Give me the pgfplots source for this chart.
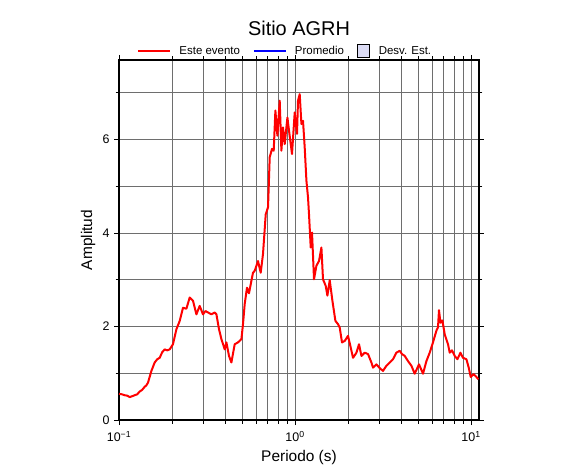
\documentclass[border=0pt]{standalone}
\usepackage{pgfplots}
\pgfplotsset{compat=1.18}
\usepackage{pgfplotstable}
\usepackage{fontspec}
\setmainfont{Liberation Sans}
\definecolor{desvfill}{RGB}{220,220,245}
\definecolor{gridgray}{RGB}{110,110,110}
\pgfplotsset{
  mylineleg/.style={legend image code/.code={\draw[##1] (0bp,0bp) -- (32bp,0bp); \path (38bp,0bp);}},
  myboxleg/.style={legend image code/.code={\draw[##1] (0bp,-6bp) rectangle (12.5bp,6.5bp); \path (19bp,0bp);}},
}

\pgfplotstableread{
T A
0.1 0.56
0.1038 0.55
0.1077 0.53
0.1115 0.52
0.115 0.49
0.1190 0.51
0.1228 0.53
0.1270 0.55
0.1311 0.61
0.1350 0.64
0.140 0.71
0.1430 0.74
0.1462 0.80
0.1528 1.05
0.1595 1.23
0.1650 1.30
0.1703 1.33
0.1760 1.45
0.1818 1.51
0.1880 1.49
0.1941 1.51
0.2026 1.62
0.2119 1.94
0.2213 2.12
0.2310 2.40
0.2415 2.38
0.2522 2.62
0.2633 2.55
0.2753 2.26
0.2874 2.44
0.3001 2.26
0.3100 2.33
0.3204 2.30
0.3350 2.26
0.3498 2.30
0.3577 2.26
0.3701 1.94
0.3819 1.73
0.3988 1.51
0.4077 1.66
0.4217 1.37
0.4351 1.23
0.4543 1.62
0.4743 1.66
0.4960 1.73
0.5064 2.05
0.5178 2.48
0.5337 2.83
0.5478 2.71
0.5654 2.98
0.5773 3.15
0.5902 3.19
0.6163 3.40
0.6384 3.15
0.6579 3.55
0.6818 4.40
0.7027 4.55
0.7183 5.62
0.7403 5.80
0.7568 5.76
0.7738 6.62
0.7943 6.08
0.8186 6.83
0.8369 5.76
0.8546 6.26
0.8739 5.90
0.9054 6.47
0.9294 6.12
0.9615 5.69
0.9961 6.58
1.0265 6.12
1.0400 6.83
1.0634 6.97
1.0874 6.33
1.1103 6.40
1.1352 5.83
1.1610 5.12
1.1855 4.76
1.2010 4.40
1.2281 3.69
1.2493 4.01
1.2823 3.01
1.3231 3.30
1.3688 3.40
1.4125 3.69
1.4423 3.01
1.4941 2.87
1.5280 2.66
1.5748 2.99
1.6313 2.55
1.6962 2.12
1.7550 2.05
1.7947 1.98
1.8493 1.66
1.9160 1.69
2.0004 1.80
2.0645 1.58
2.1358 1.33
2.2334 1.44
2.3104 1.62
2.3844 1.37
2.4889 1.44
2.5990 1.41
2.7171 1.23
2.7747 1.12
2.9007 1.19
3.0292 1.11
3.1623 1.05
3.3058 1.16
3.4518 1.23
3.6040 1.30
3.7678 1.44
3.9345 1.48
4.0550 1.41
4.2008 1.37
4.3853 1.26
4.5851 1.16
4.7863 0.99
5.0640 1.19
5.3370 0.99
5.5791 1.26
5.8249 1.44
6.0810 1.66
6.3576 1.91
6.4924 1.98
6.5781 2.35
6.7014 2.08
6.8796 2.13
7.0903 1.83
7.4027 1.62
7.5683 1.44
7.7983 1.49
8.0798 1.37
8.3714 1.30
8.7073 1.44
9.0065 1.33
9.4172 1.30
9.7030 1.12
9.9614 0.92
10.359 0.98
10.732 0.92
11.016 0.87
}\evento

\begin{document}
\begin{tikzpicture}
\useasboundingbox (0bp,0bp) rectangle (586bp,475bp);
\begin{axis}[
  at={(119bp,55bp)}, anchor=south west,
  scale only axis, width=360bp, height=360bp,
  xmode=log, xmin=0.1, xmax=11.1,
  ymin=0, ymax=7.7,
  xtick={0.1,1,10},
  xticklabels={10\textsuperscript{−1},10\textsuperscript{0},10\textsuperscript{1}},
  ytick={0,2,4,6}, minor ytick={1,3,5,7},
  grid=both,
  major grid style={gridgray, line width=0.7bp},
  minor grid style={gridgray, line width=0.7bp},
  axis line style={black, line width=2bp},
  tick align=outside,
  major tick length=5bp, minor tick length=3.5bp,
  tick style={black, line width=0.7bp},
  /pgf/number format/assume math mode=true,
  ticklabel style={font=\fontsize{12.5}{14}\selectfont},
  xticklabel style={yshift=-2.5bp},
  yticklabel style={xshift=-1bp},
  label style={font=\fontsize{15.5}{18}\selectfont},
  xlabel={Periodo (s)},
  ylabel={Amplitud},
  xlabel style={at={(axis description cs:0.5,0)}, anchor=base, yshift=-41bp},
  ylabel style={at={(axis description cs:-0.086,0.5)}, anchor=center},
  title={Sitio AGRH},
  title style={font=\fontsize{20}{24}\selectfont, at={(axis description cs:0.5,1)}, anchor=base, yshift=19bp},
  legend columns=3,
  legend style={at={(axis description cs:0.462,1)}, anchor=south, yshift=2bp,
    draw=none, fill=none, inner sep=0pt, font=\fontsize{11.5}{13}\selectfont,
    /tikz/every even column/.append style={column sep=11bp}},
  legend cell align=left,
]
\addplot[red, line width=2bp, line join=round, mylineleg]
  table[x=T, y=A] {\evento};
\addlegendentry{Este evento}
\addlegendimage{blue, line width=2bp, mylineleg}
\addlegendentry{Promedio\hspace{6bp}}
\addlegendimage{fill=desvfill, draw=black, line width=0.8bp, myboxleg}
\addlegendentry{Desv. Est.}
\end{axis}
\end{tikzpicture}
\end{document}
